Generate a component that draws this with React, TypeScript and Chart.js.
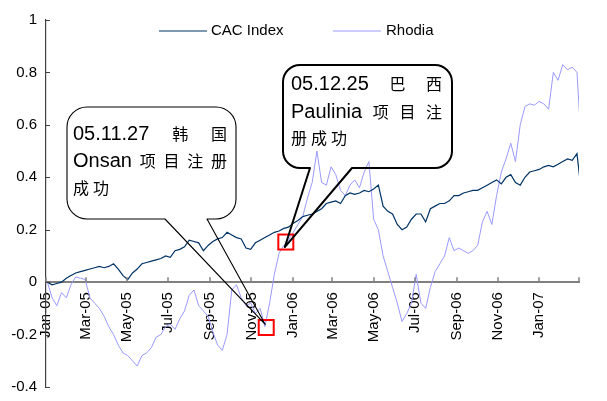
import { useEffect, useRef } from 'react';
import { Chart, registerables } from 'chart.js';

Chart.register(...registerables);

// ---------------- data ----------------
const SERIES_NAMES = ['CAC Index', 'Rhodia'];
const FIRST_WEEK = '2005-01-03'; // weekly observations start here (7-day step)
const LAST_OBS = '2007-03-02'; // final observation date (last value in each array)

const cacValues = [
  0.0, -0.01, -0.005, 0.0, 0.015, 0.025, 0.035, 0.04, 0.045, 0.05,
  0.055, 0.06, 0.055, 0.06, 0.07, 0.05, 0.025, 0.01, 0.035, 0.05,
  0.07, 0.075, 0.08, 0.085, 0.09, 0.1, 0.095, 0.12, 0.125, 0.135,
  0.16, 0.155, 0.15, 0.12, 0.14, 0.155, 0.165, 0.17, 0.19, 0.18,
  0.17, 0.165, 0.13, 0.125, 0.15, 0.16, 0.17, 0.18, 0.19, 0.195,
  0.205, 0.21, 0.225, 0.235, 0.25, 0.255, 0.26, 0.27, 0.28, 0.3,
  0.305, 0.31, 0.3, 0.33, 0.34, 0.335, 0.34, 0.35, 0.345, 0.355,
  0.37, 0.29, 0.27, 0.26, 0.22, 0.2, 0.21, 0.24, 0.26, 0.26,
  0.23, 0.28, 0.29, 0.3, 0.3, 0.31, 0.33, 0.33, 0.34, 0.345,
  0.35, 0.35, 0.36, 0.37, 0.38, 0.39, 0.375, 0.4, 0.41, 0.38,
  0.37, 0.4, 0.42, 0.425, 0.43, 0.44, 0.445, 0.44, 0.45, 0.46,
  0.47, 0.465, 0.49, 0.4,
];

const rhodiaValues = [
  0.0, -0.06, -0.09, -0.04, -0.06, -0.01, 0.02, 0.015, 0.01, -0.06,
  -0.08, -0.1, -0.13, -0.17, -0.2, -0.24, -0.27, -0.28, -0.3, -0.32,
  -0.28, -0.27, -0.25, -0.21, -0.2, -0.17, -0.16, -0.18, -0.14, -0.11,
  -0.05, -0.03, -0.09, -0.11, -0.13, -0.19, -0.24, -0.26, -0.2, -0.03,
  -0.01, -0.06, -0.09, -0.08, -0.12, -0.1, -0.17, -0.08, 0.03, 0.11,
  0.14, 0.16, 0.19, 0.22, 0.25, 0.32, 0.38, 0.5, 0.38, 0.37,
  0.44, 0.41, 0.35, 0.33, 0.37, 0.39, 0.36, 0.42, 0.46, 0.24,
  0.2, 0.1, 0.04, -0.02, -0.08, -0.15, -0.12, -0.08, 0.03, -0.08,
  -0.1, -0.02, 0.04, 0.07, 0.1, 0.17, 0.12, 0.13, 0.12, 0.11,
  0.12, 0.14, 0.23, 0.27, 0.22, 0.33, 0.42, 0.47, 0.53, 0.46,
  0.6, 0.67, 0.68, 0.675, 0.69, 0.68, 0.66, 0.8, 0.77, 0.83,
  0.81, 0.82, 0.8, 0.63,
];

const X_MIN_DATE = '2005-01-01';
const X_MAX_DATE = '2007-03-01';
const X_TICK_DATES = [
  '2005-01-01', '2005-03-01', '2005-05-01', '2005-07-01', '2005-09-01', '2005-11-01',
  '2006-01-01', '2006-03-01', '2006-05-01', '2006-07-01', '2006-09-01', '2006-11-01',
  '2007-01-01', '2007-03-01',
];
const X_TICK_LABELS = [
  'Jan-05', 'Mar-05', 'May-05', 'Jul-05', 'Sep-05', 'Nov-05',
  'Jan-06', 'Mar-06', 'May-06', 'Jul-06', 'Sep-06', 'Nov-06',
  'Jan-07', '',
];
const Y_TICK_VALUES = [-0.4, -0.2, 0, 0.2, 0.4, 0.6, 0.8, 1];
const Y_TICK_LABELS = ['-0.4', '-0.2', '0', '0.2', '0.4', '0.6', '0.8', '1'];

// annotated events (marker on the Rhodia line)
const EVENT_DATES = ['2005-11-23', '2005-12-22'];
const EVENT_VALUES = [-0.173, 0.153];
const EVENT_TEXTS = [
  [['05.11.27', '韩', '国'], ['Onsan', '项', '目', '注', '册'], ['成', '功']],
  [['05.12.25', '巴', '西'], ['Paulinia', '项', '目', '注'], ['册', '成', '功']],
];

// ---------------- helpers ----------------
const DAY_MS = 86400000;
function dayIndex(iso: string): number {
  const [y, m, d] = iso.split('-').map(Number);
  const [y0, m0, d0] = X_MIN_DATE.split('-').map(Number);
  return (Date.UTC(y, m - 1, d) - Date.UTC(y0, m0 - 1, d0)) / DAY_MS;
}
function obsDay(i: number, n: number): number {
  return i < n - 1 ? dayIndex(FIRST_WEEK) + 7 * i : dayIndex(LAST_OBS);
}

const LATIN_FONT = 'Liberation Sans, Arial, sans-serif';
const CJK_FONT = '"Noto Sans CJK SC", sans-serif';
const CAC_COLOR = '#003366';
const RHODIA_COLOR = '#9999ff';

// callout layout (pixels)
const CALLOUTS = [
  { l: 67, t: 107, r: 236, b: 219, base: [165, 207], tx: 73, tw: 154, baselines: [139.5, 167, 193.5], lw: 1.1, radius: 20, tipDx: -1, tipDy: -3 },
  { l: 283, t: 65, r: 452, b: 168, base: [310, 352], tx: 291, tw: 151, baselines: [90, 118, 144], lw: 2, radius: 17, tipDx: -1, tipDy: 5 },
];

const isCJK = (s: string) => /[\u3000-\u9fff]/.test(s);
const fontFor = (s: string) => (isCJK(s) ? `16px ${CJK_FONT}` : `20px ${LATIN_FONT}`);

function drawCallout(ctx: CanvasRenderingContext2D, c: any, tipX: number, tipY: number, lines: string[][]) {
  const { l, t, r, b, radius } = c;
  ctx.save();
  ctx.strokeStyle = '#000';
  ctx.lineWidth = c.lw;
  ctx.lineJoin = 'round';
  ctx.beginPath();
  ctx.moveTo(l + radius, t);
  ctx.lineTo(r - radius, t);
  ctx.arcTo(r, t, r, t + radius, radius);
  ctx.lineTo(r, b - radius);
  ctx.arcTo(r, b, r - radius, b, radius);
  ctx.lineTo(c.base[1], b);
  ctx.lineTo(tipX, tipY);
  ctx.lineTo(c.base[0], b);
  ctx.lineTo(l + radius, b);
  ctx.arcTo(l, b, l, b - radius, radius);
  ctx.lineTo(l, t + radius);
  ctx.arcTo(l, t, l + radius, t, radius);
  ctx.closePath();
  ctx.stroke();

  ctx.fillStyle = '#000';
  ctx.textBaseline = 'alphabetic';
  ctx.textAlign = 'left';
  lines.forEach((tokens, li) => {
    const widths = tokens.map((tk) => {
      ctx.font = fontFor(tk);
      return ctx.measureText(tk).width;
    });
    const total = widths.reduce((a, w) => a + w, 0);
    const last = li === lines.length - 1;
    const gap = last ? 4 : (c.tw - total) / Math.max(1, tokens.length - 1);
    let x = c.tx;
    tokens.forEach((tk, k) => {
      ctx.font = fontFor(tk);
      ctx.fillText(tk, x, c.baselines[li]);
      x += widths[k] + gap;
    });
  });
  ctx.restore();
}

const overlayPlugin = {
  id: 'overlay',
  afterDraw(chart: any) {
    const ctx: CanvasRenderingContext2D = chart.ctx;
    const xs = chart.scales.x;
    const ys = chart.scales.y;
    const area = chart.chartArea;
    ctx.save();

    // inward y tick marks
    ctx.strokeStyle = '#404040';
    ctx.lineWidth = 1;
    ys.ticks.forEach((t: any) => {
      const py = Math.round(ys.getPixelForValue(t.value)) + 0.5;
      ctx.beginPath();
      ctx.moveTo(area.left, py);
      ctx.lineTo(area.left + 4, py);
      ctx.stroke();
    });

    // upward x tick marks on the zero line
    const y0 = ys.getPixelForValue(0);
    ctx.strokeStyle = '#808080';
    ctx.lineWidth = 1.5;
    xs.ticks.forEach((t: any) => {
      const px = Math.round(xs.getPixelForValue(t.value));
      ctx.beginPath();
      ctx.moveTo(px, y0);
      ctx.lineTo(px, y0 - 5);
      ctx.stroke();
    });

    // legend (drawn inside the plot like the original)
    const legendItems = [
      { x1: 159, x2: 207, tx: 211, color: CAC_COLOR, name: SERIES_NAMES[0] },
      { x1: 333, x2: 381, tx: 386, color: RHODIA_COLOR, name: SERIES_NAMES[1] },
    ];
    ctx.font = `15px ${LATIN_FONT}`;
    ctx.textBaseline = 'middle';
    ctx.textAlign = 'left';
    legendItems.forEach((it) => {
      ctx.strokeStyle = it.color;
      ctx.lineWidth = 1.2;
      ctx.beginPath();
      ctx.moveTo(it.x1, 31);
      ctx.lineTo(it.x2, 31);
      ctx.stroke();
      ctx.fillStyle = '#000';
      ctx.fillText(it.name, it.tx, 31);
    });

    // red markers
    const centers = EVENT_DATES.map((d, i) => ({
      x: xs.getPixelForValue(dayIndex(d)),
      y: ys.getPixelForValue(EVENT_VALUES[i]),
    }));
    ctx.strokeStyle = '#ff0000';
    ctx.lineWidth = 2;
    centers.forEach((p) => ctx.strokeRect(p.x - 7.5, p.y - 7.5, 15, 15));

    // callouts
    CALLOUTS.forEach((c, i) => {
      drawCallout(ctx, c, centers[i].x + c.tipDx, centers[i].y + c.tipDy, EVENT_TEXTS[i]);
    });

    ctx.restore();
  },
};

export default function App() {
  const canvasRef = useRef<HTMLCanvasElement>(null);

  useEffect(() => {
    const canvas = canvasRef.current;
    if (!canvas) return;
    Chart.defaults.font.family = LATIN_FONT;

    const toPoints = (vals: number[]) => vals.map((v, i) => ({ x: obsDay(i, vals.length), y: v }));

    const chart = new Chart(canvas, {
      type: 'line',
      data: {
        datasets: [
          {
            label: SERIES_NAMES[0],
            data: toPoints(cacValues),
            borderColor: CAC_COLOR,
            backgroundColor: CAC_COLOR,
            borderWidth: 1.2,
            pointRadius: 0,
            tension: 0,
          },
          {
            label: SERIES_NAMES[1],
            data: toPoints(rhodiaValues),
            borderColor: RHODIA_COLOR,
            backgroundColor: RHODIA_COLOR,
            borderWidth: 1,
            pointRadius: 0,
            tension: 0,
          },
        ],
      },
      options: {
        animation: false,
        responsive: false,
        devicePixelRatio: 1,
        layout: { padding: { top: 20, right: 17, bottom: 14, left: 0 } },
        plugins: {
          legend: { display: false },
          tooltip: { enabled: false },
        },
        scales: {
          x: {
            type: 'linear',
            min: dayIndex(X_MIN_DATE),
            max: dayIndex(X_MAX_DATE),
            position: { y: 0 } as any,
            grid: { display: true, drawOnChartArea: false, drawTicks: false },
            border: { display: true, color: '#808080', width: 2 },
            ticks: {
              autoSkip: false,
              minRotation: 90,
              maxRotation: 90,
              padding: 10,
              color: '#000',
              font: { size: 15, family: LATIN_FONT },
              callback: (v: any) => {
                const idx = X_TICK_DATES.findIndex((d) => dayIndex(d) === v);
                return idx >= 0 ? X_TICK_LABELS[idx] : '';
              },
            },
            afterBuildTicks: (s: any) => {
              s.ticks = X_TICK_DATES.map((d) => ({ value: dayIndex(d) }));
            },
            afterFit: (s: any) => {
              s.height = 0;
              s.paddingTop = 0;
              s.paddingBottom = 0;
            },
          } as any,
          y: {
            type: 'linear',
            min: Y_TICK_VALUES[0],
            max: Y_TICK_VALUES[Y_TICK_VALUES.length - 1],
            grid: { display: true, drawOnChartArea: false, drawTicks: false },
            border: { display: true, color: '#404040', width: 1.2 },
            ticks: {
              padding: 9,
              color: '#000',
              font: { size: 15, family: LATIN_FONT },
              callback: (v: any) => {
                const idx = Y_TICK_VALUES.findIndex((t) => Math.abs(t - v) < 1e-9);
                return idx >= 0 ? Y_TICK_LABELS[idx] : '';
              },
            },
            afterBuildTicks: (s: any) => {
              s.ticks = Y_TICK_VALUES.map((v) => ({ value: v }));
            },
            afterFit: (s: any) => {
              s.width = 46;
              s.paddingTop = 0;
              s.paddingBottom = 0;
            },
          } as any,
        },
      },
      plugins: [overlayPlugin],
    });

    return () => chart.destroy();
  }, []);

  return (
    <div style={{ position: 'fixed', left: 0, top: 0, width: 607, height: 401, background: '#fff' }}>
      <canvas ref={canvasRef} width={607} height={401} style={{ width: 607, height: 401, display: 'block' }} />
    </div>
  );
}
